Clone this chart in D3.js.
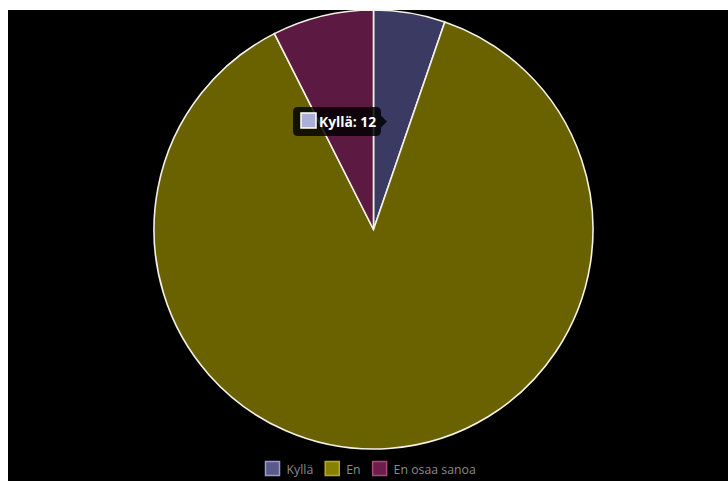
<!DOCTYPE html>
<html><head><meta charset="utf-8">
<script src="https://cdn.jsdelivr.net/npm/d3@7"></script>
<style>
html,body{margin:0;padding:0;background:#fff;}
svg{display:block;}
</style></head>
<body>
<svg id="c" width="728" height="481"></svg>
<script>
const categories = ["Kyllä", "En", "En osaa sanoa"];
const values = [12, 199, 17];
const sliceColors = ["#3a3a62", "#6a6100", "#5c1a42"];
const legendFill = ["#5a5a88", "#878000", "#6e1c4a"];
const legendStroke = ["#9a9ccc", "#b4ac28", "#a84a78"];
const tooltipIndex = 0;

const svg = d3.select("#c");
svg.append("rect").attr("x", 8).attr("y", 10).attr("width", 720).attr("height", 471).attr("fill", "#000");

const cx = 373.5, cy = 229.5, r = 219.5;
const pie = d3.pie().sort(null).value(d => d)(values);
const arc = d3.arc().innerRadius(0).outerRadius(r);
const g = svg.append("g").attr("transform", `translate(${cx},${cy})`);
g.selectAll("path").data(pie).join("path")
  .attr("d", arc)
  .attr("fill", (d, i) => sliceColors[i])
  .attr("stroke", "#f4f2e6")
  .attr("stroke-width", 1.6)
  .attr("stroke-linejoin", "miter");

// legend
const lg = svg.append("g").attr("font-family", "'Open Sans', sans-serif").attr("font-size", 12.3);
const items = lg.selectAll("g").data(categories).join("g");
items.append("rect").attr("width", 14).attr("height", 14).attr("y", 461.5)
  .attr("fill", (d, i) => legendFill[i]).attr("stroke", (d, i) => legendStroke[i]).attr("stroke-width", 1.5);
items.append("text").attr("y", 473.5).attr("fill", "#8a8a8a").text(d => d);
let x = 265.5;
items.each(function(d) {
  const s = d3.select(this);
  s.select("rect").attr("x", x);
  s.select("text").attr("x", x + 21);
  const w = s.select("text").node().getComputedTextLength();
  x += 21 + w + 12;
});

// tooltip
const tt = svg.append("g");
const ttX = 293, ttY = 107, ttW = 88, ttH = 29;
tt.append("path")
  .attr("d", `M${ttX + 5},${ttY} H${ttX + ttW - 5} Q${ttX + ttW},${ttY} ${ttX + ttW},${ttY + 5} V${ttY + ttH / 2 - 6} L${ttX + ttW + 6},${ttY + ttH / 2} L${ttX + ttW},${ttY + ttH / 2 + 6} V${ttY + ttH - 5} Q${ttX + ttW},${ttY + ttH} ${ttX + ttW - 5},${ttY + ttH} H${ttX + 5} Q${ttX},${ttY + ttH} ${ttX},${ttY + ttH - 5} V${ttY + 5} Q${ttX},${ttY} ${ttX + 5},${ttY} Z`)
  .attr("fill", "rgba(0,0,0,0.82)");
tt.append("rect").attr("x", ttX + 8).attr("y", ttY + 6).attr("width", 15).attr("height", 15)
  .attr("fill", "#a9aedb").attr("stroke", "#fff").attr("stroke-width", 1.5);
tt.append("text").attr("x", ttX + 26).attr("y", ttY + 19.5)
  .attr("font-family", "'Open Sans', sans-serif").attr("font-weight", "bold").attr("font-size", 13.8)
  .attr("fill", "#fff").text(`${categories[tooltipIndex]}: ${values[tooltipIndex]}`);
</script>
</body></html>
